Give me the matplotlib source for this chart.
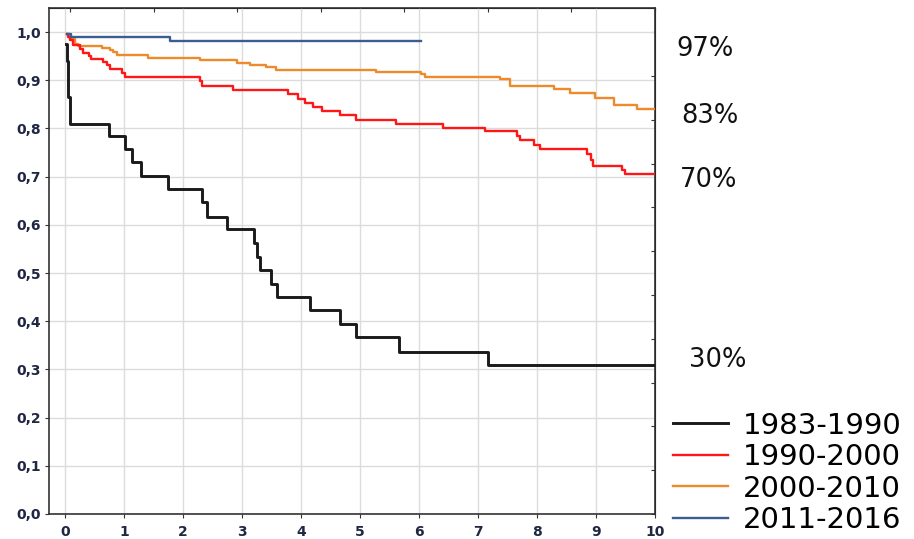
import numpy as np
import matplotlib
matplotlib.use('Agg')
import matplotlib.pyplot as plt
from matplotlib.ticker import FuncFormatter

# Kaplan-Meier style step curves
t_8390 = [0.02, 0.03, 0.05, 0.09, 0.75, 1.02, 1.14, 1.29, 1.75, 2.32, 2.41, 2.74,
          3.21, 3.26, 3.31, 3.50, 3.60, 4.15, 4.66, 4.93, 5.67, 7.17, 10.0]
s_8390 = [0.975, 0.94, 0.865, 0.81, 0.784, 0.757, 0.73, 0.701, 0.674, 0.648, 0.617, 0.591,
          0.563, 0.534, 0.506, 0.477, 0.45, 0.423, 0.394, 0.368, 0.337, 0.309, 0.309]

t_9000 = [0.04, 0.06, 0.09, 0.14, 0.25, 0.31, 0.40, 0.45, 0.65, 0.71, 0.76, 0.96, 1.02,
          2.29, 2.33, 2.85, 3.78, 3.95, 4.07, 4.21, 4.35, 4.66, 4.94, 5.61, 6.41, 7.12,
          7.66, 7.72, 7.95, 8.05, 8.84, 8.91, 8.95, 9.44, 9.49, 10.0]
s_9000 = [0.995, 0.99, 0.983, 0.973, 0.964, 0.957, 0.95, 0.945, 0.938, 0.931, 0.924, 0.916, 0.907,
          0.898, 0.889, 0.88, 0.871, 0.862, 0.853, 0.844, 0.837, 0.827, 0.818, 0.81, 0.80, 0.794,
          0.785, 0.776, 0.766, 0.757, 0.747, 0.734, 0.722, 0.714, 0.705, 0.705]

t_0010 = [0.04, 0.08, 0.17, 0.23, 0.62, 0.76, 0.81, 0.88, 1.41, 2.29, 2.91, 3.14, 3.40,
          3.57, 5.28, 6.03, 6.11, 7.37, 7.55, 8.29, 8.56, 8.98, 9.31, 9.69, 10.0]
s_0010 = [0.995, 0.985, 0.976, 0.971, 0.966, 0.962, 0.958, 0.952, 0.947, 0.942, 0.936, 0.931, 0.927,
          0.921, 0.917, 0.912, 0.907, 0.902, 0.888, 0.881, 0.873, 0.864, 0.849, 0.840, 0.840]

t_1116 = [0.03, 0.10, 1.78, 6.03]
s_1116 = [0.995, 0.989, 0.981, 0.981]

labels = ['1983-1990', '1990-2000', '2000-2010', '2011-2016']
end_pct = ['97%', '83%', '70%', '30%']

BLACK = '#1a1a1a'; RED = '#ff1616'; ORANGE = '#ee8a2c'; BLUE = '#3c5d91'
TICK = '#1f2742'; GRID = '#dcdcdc'

fig = plt.figure(figsize=(9.14, 5.39), dpi=100)
ax = fig.add_axes([0.0536, 0.0464, 0.6630, 0.9388])

l1, = ax.plot(t_8390, s_8390, drawstyle='steps-post', color=BLACK, lw=2.1, zorder=5)
l2, = ax.plot(t_9000, s_9000, drawstyle='steps-post', color=RED, lw=1.7, zorder=4)
l3, = ax.plot(t_0010, s_0010, drawstyle='steps-post', color=ORANGE, lw=1.7, zorder=3)
l4, = ax.plot(t_1116, s_1116, drawstyle='steps-post', color=BLUE, lw=1.7, zorder=6)

ax.set_xlim(-0.27, 10)
ax.set_ylim(0, 1.05)
ax.set_xticks(np.arange(0, 11, 1))
ax.set_yticks(np.arange(0, 1.01, 0.1))
ax.yaxis.set_major_formatter(FuncFormatter(lambda v, p: f'{v:.1f}'.replace('.', ',')))
ax.grid(True, color=GRID, lw=1.0)
ax.set_axisbelow(True)
ax.tick_params(axis='both', direction='out', length=3, width=0.8, colors='#333333',
               labelcolor=TICK, labelsize=10)
for lab in ax.get_xticklabels() + ax.get_yticklabels():
    lab.set_fontweight('bold')
ax.tick_params(axis='x', pad=5)
ax.tick_params(axis='y', pad=3)
for sp in ax.spines.values():
    sp.set_color('#333333')
    sp.set_linewidth(1.2)

# unlabeled inner ticks on top and right
top = ax.secondary_xaxis('top')
top.set_xticks(np.linspace(0.085, 10, 8), labels=[])
top.tick_params(direction='in', length=3, width=0.8, colors='#333333')
right = ax.secondary_yaxis('right')
right.set_yticks(np.linspace(0, 1, 12), labels=[])
right.tick_params(direction='in', length=3, width=0.8, colors='#333333')

# end-point percentages
pct_pos = [(10.85, 0.965), (10.93, 0.826), (10.90, 0.693), (11.07, 0.320)]
for txt, (px, py) in zip(end_pct, pct_pos):
    ax.text(px, py, txt, ha='center', va='center', fontsize=18.5, color='#111111',
            clip_on=False)

fig.legend([l1, l2, l3, l4], labels, loc='upper left', bbox_to_anchor=(0.7363, 0.2365),
           frameon=False, fontsize=21, handlelength=1.88, handletextpad=0.51,
           labelspacing=0.12, borderpad=0, borderaxespad=0)

plt.savefig('out.png', dpi=100)
